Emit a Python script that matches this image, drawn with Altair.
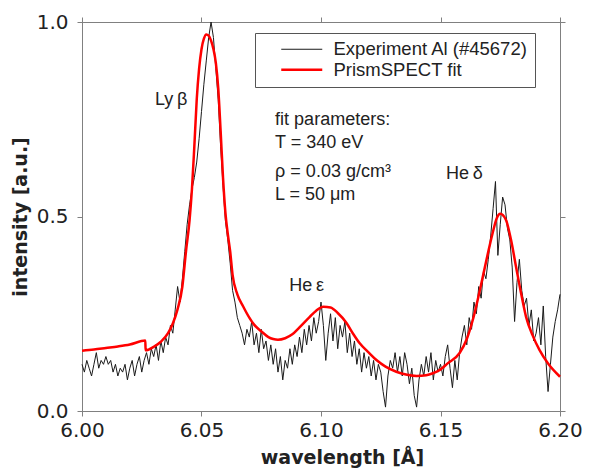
import altair as alt
import pandas as pd

# ---------------- data ----------------
WL_START = 6.000
WL_STEP = 0.001

exp_intensity = [
    0.12, 0.10, 0.13, 0.11, 0.09, 0.12, 0.15, 0.11, 0.13, 0.12,
    0.14, 0.12, 0.13, 0.10, 0.12, 0.09, 0.11, 0.10, 0.12, 0.08,
    0.11, 0.13, 0.09, 0.12, 0.14, 0.10, 0.13, 0.15, 0.12, 0.16,
    0.14, 0.17, 0.13, 0.18, 0.15, 0.19, 0.17, 0.22, 0.20, 0.26,
    0.32, 0.28, 0.34, 0.41, 0.48, 0.53, 0.57, 0.60, 0.64, 0.70,
    0.77, 0.84, 0.90, 0.96, 1.00, 0.96, 0.88, 0.80, 0.68, 0.58,
    0.49, 0.44, 0.38, 0.31, 0.28, 0.24, 0.22, 0.20, 0.17, 0.21,
    0.19, 0.23, 0.17, 0.20, 0.15, 0.21, 0.16, 0.18, 0.13, 0.17,
    0.12, 0.16, 0.10, 0.14, 0.08, 0.13, 0.11, 0.16, 0.12, 0.17,
    0.14, 0.19, 0.15, 0.21, 0.17, 0.22, 0.18, 0.24, 0.20, 0.23,
    0.28, 0.22, 0.13, 0.20, 0.25, 0.18, 0.24, 0.16, 0.22, 0.19,
    0.23, 0.15, 0.20, 0.14, 0.18, 0.12, 0.16, 0.10, 0.15, 0.11,
    0.14, 0.09, 0.13, 0.08, 0.12, 0.10, 0.05, 0.01, 0.09, 0.13,
    0.11, 0.15, 0.10, 0.14, 0.09, 0.15, 0.12, 0.07, 0.11, 0.04,
    0.01, 0.08, 0.12, 0.09, 0.14, 0.10, 0.15, 0.08, 0.13, 0.10,
    0.12, 0.09, 0.14, 0.17, 0.11, 0.06, 0.13, 0.08, 0.15, 0.19,
    0.22, 0.17, 0.24, 0.21, 0.28, 0.25, 0.32, 0.29, 0.36, 0.34,
    0.39, 0.45, 0.52, 0.59, 0.40, 0.48, 0.55, 0.53, 0.47, 0.44,
    0.37, 0.23, 0.33, 0.39, 0.31, 0.27, 0.29, 0.22, 0.26, 0.18,
    0.20, 0.24, 0.17, 0.27, 0.14, 0.05, 0.12, 0.19, 0.23, 0.26,
    0.30,
]

fit_wavelength = [
    6.000, 6.005, 6.010, 6.015, 6.020, 6.0265, 6.0266, 6.030, 6.033, 6.036,
    6.038, 6.040, 6.042, 6.0435, 6.045, 6.046, 6.047, 6.048, 6.049, 6.050,
    6.051, 6.052, 6.053, 6.054, 6.055, 6.056, 6.057, 6.058, 6.059, 6.060,
    6.061, 6.062, 6.063, 6.065, 6.0675, 6.070, 6.072, 6.075, 6.078, 6.080,
    6.082, 6.085, 6.088, 6.091, 6.0953, 6.098, 6.101, 6.104, 6.107, 6.1106,
    6.1135, 6.1162, 6.120, 6.1232, 6.127, 6.1315, 6.136, 6.140, 6.144, 6.1468,
    6.1496, 6.1531, 6.158, 6.161, 6.1635, 6.1677, 6.170, 6.1718, 6.1735, 6.175,
    6.1774, 6.1795, 6.1816, 6.1838, 6.1858, 6.1885, 6.1914, 6.195, 6.200,
]
fit_intensity = [
    0.155, 0.158, 0.162, 0.166, 0.171, 0.181, 0.156, 0.165, 0.178, 0.200,
    0.225, 0.262, 0.32, 0.41, 0.49, 0.57, 0.68, 0.80, 0.88, 0.93,
    0.957, 0.968, 0.965, 0.952, 0.93, 0.895, 0.83, 0.72, 0.60, 0.51,
    0.455, 0.41, 0.35, 0.30, 0.268, 0.24, 0.222, 0.205, 0.190, 0.185,
    0.183, 0.187, 0.197, 0.215, 0.242, 0.258, 0.268, 0.266, 0.252, 0.227,
    0.198, 0.174, 0.150, 0.131, 0.114, 0.101, 0.093, 0.090, 0.092, 0.097,
    0.105, 0.123, 0.149, 0.185, 0.234, 0.345, 0.41, 0.457, 0.495, 0.507,
    0.491, 0.44, 0.371, 0.30, 0.242, 0.195, 0.157, 0.122, 0.088,
]

series_names = ["Experiment Al (#45672)", "PrismSPECT fit"]
series_colors = ["#1a1a1a", "#ff0000"]
series_widths = [1.0, 2.5]

x_ticks = [6.00, 6.05, 6.10, 6.15, 6.20]
y_ticks = [0.0, 0.5, 1.0]

line_labels = ["Ly\u2009β", "He\u2009ε", "He\u2009δ"]
line_label_x = [6.0373, 6.0940, 6.1600]
line_label_y = [0.800, 0.322, 0.608]

param_lines = ["fit parameters:", "T = 340 eV", "ρ = 0.03 g/cm³", "L = 50 μm"]
param_x = [6.0808, 6.0808, 6.0808, 6.0808]
param_y = [0.748, 0.689, 0.614, 0.556]

# ---------------- frames ----------------
exp_df = pd.DataFrame({
    "wavelength": [round(WL_START + i * WL_STEP, 4) for i in range(len(exp_intensity))],
    "intensity": exp_intensity,
    "series": series_names[0],
})
fit_df = pd.DataFrame({
    "wavelength": fit_wavelength,
    "intensity": fit_intensity,
    "series": series_names[1],
})
lab_df = pd.DataFrame({"t": line_labels, "x": line_label_x, "y": line_label_y})
par_df = pd.DataFrame({"t": param_lines, "x": param_x, "y": param_y})

FONT = "Liberation Sans"
AXFONT = "DejaVu Sans"
xscale = alt.Scale(domain=[6.0, 6.2], nice=False, zero=False)
yscale = alt.Scale(domain=[0.0, 1.0], nice=False, zero=False)

legend = alt.Legend(
    title=None, orient="none", legendX=173, legendY=11, direction="vertical",
    fillColor="white", strokeColor="#555555", padding=7,
    symbolType="M-4.1,0H4.1", symbolSize=100, symbolOffset=30.5,
    labelFont=FONT, labelFontSize=18.5, labelColor="#222222",
    labelOffset=22.5, labelLimit=400, rowPadding=1.5,
)

color_enc = alt.Color("series:N", scale=alt.Scale(domain=series_names, range=series_colors), legend=legend)
width_enc = alt.StrokeWidth("series:N", scale=alt.Scale(domain=series_names, range=series_widths), legend=legend)

exp_line = alt.Chart(exp_df).mark_line().encode(
    x=alt.X("wavelength:Q", scale=xscale,
            axis=alt.Axis(values=x_ticks, format=".2f", title="wavelength [Å]",
                          titleX=260, titlePadding=8, labelPadding=4, labelFlush=False)),
    y=alt.Y("intensity:Q", scale=yscale,
            axis=alt.Axis(values=y_ticks, format=".1f", title="intensity [a.u.]",
                          titlePadding=6, labelPadding=9, labelFlush=False)),
    color=color_enc,
    strokeWidth=width_enc,
)

fit_line = alt.Chart(fit_df).mark_line(interpolate="monotone").encode(
    x=alt.X("wavelength:Q", scale=xscale,
            axis=alt.Axis(orient="top", values=x_ticks, labels=False, title=None)),
    y=alt.Y("intensity:Q", scale=yscale,
            axis=alt.Axis(orient="right", values=y_ticks, labels=False, title=None)),
    color=color_enc,
    strokeWidth=width_enc,
)

labels = alt.Chart(lab_df).mark_text(font=FONT, fontSize=18, color="#222222", align="center", baseline="middle").encode(
    x=alt.X("x:Q", scale=xscale, axis=None),
    y=alt.Y("y:Q", scale=yscale, axis=None),
    text="t:N",
)
params = alt.Chart(par_df).mark_text(font=FONT, fontSize=18, color="#222222", align="left", baseline="middle").encode(
    x=alt.X("x:Q", scale=xscale, axis=None),
    y=alt.Y("y:Q", scale=yscale, axis=None),
    text="t:N",
)

chart = alt.layer(exp_line, fit_line, labels, params).resolve_axis(
    x="independent", y="independent"
).properties(
    width=478, height=389,
    autosize=alt.AutoSizeParams(type="none"),
    padding={"left": 82, "top": 22, "right": 32, "bottom": 59},
).configure_view(
    stroke="#808080", strokeWidth=1
).configure_axis(
    grid=False, domainColor="#808080", tickColor="#808080", tickSize=5,
    labelFont=AXFONT, labelFontSize=20, labelColor="#222222",
    titleFont=AXFONT, titleFontSize=19, titleFontWeight="bold", titleColor="#222222",
)

chart.save("out.html", embed_options={"renderer": "svg", "actions": False})
